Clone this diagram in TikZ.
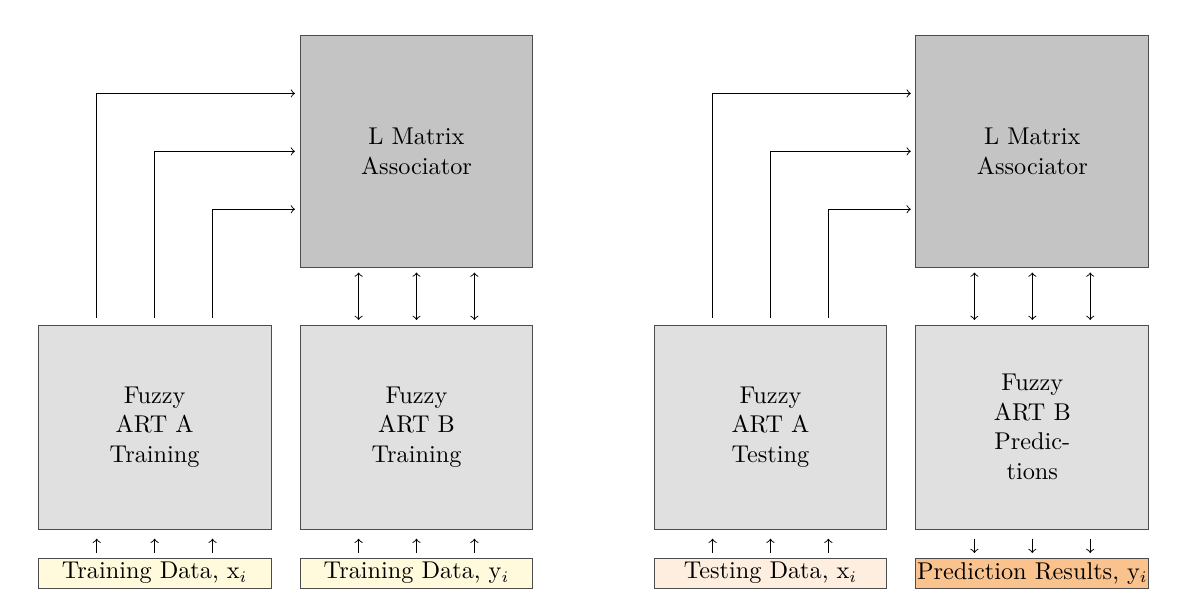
\documentclass[tikz,border=0pt]{standalone}
\usetikzlibrary{calc}
\definecolor{matgray}{RGB}{196,196,196}
\definecolor{artgray}{RGB}{224,224,224}
\definecolor{trainyellow}{RGB}{255,250,220}
\definecolor{testpeach}{RGB}{254,238,224}
\definecolor{predorange}{RGB}{250,194,140}
\tikzset{
	every node/.style={font=\fontsize{10.5pt}{12.8pt}\selectfont},
	matbox/.style={draw=black!70, fill=matgray, minimum width=3.54cm, minimum height=3.53cm, align=center},
	artbox/.style={draw=black!70, fill=artgray, minimum width=3.54cm, minimum height=3.10cm, align=center},
	databox/.style={draw=black!70, minimum width=3.54cm, minimum height=0.456cm, inner sep=0pt},
}
\begin{document}
\begin{tikzpicture}
	\useasboundingbox (0,0) rectangle (17.98,-9.26);

	% training
	\node[matbox] (lmat) at (6.33,-2.30) {L Matrix\\Associator};
	\node[artbox] (arta) at (2.35,-6.49) {Fuzzy\\ART A\\Training};
	\node[artbox] (artb) at (6.33,-6.49) {Fuzzy\\ART B\\Training};
	\node[databox, fill=trainyellow] (datax) at (2.35,-8.71) {Training Data, x$_i$};
	\node[databox, fill=trainyellow] (datay) at (6.33,-8.71) {Training Data, y$_i$};

	% testing
	\node[matbox] (lmattest) at (15.69,-2.30) {L Matrix\\Associator};
	\node[artbox] (artatest) at (11.71,-6.49) {Fuzzy\\ART A\\Testing};
	\node[artbox] (artbtest) at (15.69,-6.49) {Fuzzy\\ART B\\Predic-\\tions};
	\node[databox, fill=testpeach] (dataxtest) at (11.71,-8.71) {Testing Data, x$_i$};
	\node[databox, fill=predorange] (result) at (15.69,-8.71) {Prediction Results, y$_i$};

	\foreach \d in {-0.88,0,0.88} {
		\draw[->, shorten <=3pt, shorten >=2pt] ($(arta.north)+(\d,0)$) |- ($(lmat.west)+(0,-\d)$);
		\draw[<->, shorten <=2pt, shorten >=2pt] ($(lmat.south)+(\d,0)$) -- ($(artb.north)+(\d,0)$);
		\draw[->, shorten <=2pt, shorten >=4pt] ($(datax.north)+(\d,0)$) -- ($(arta.south)+(\d,0)$);
		\draw[->, shorten <=2pt, shorten >=4pt] ($(datay.north)+(\d,0)$) -- ($(artb.south)+(\d,0)$);

		\draw[->, shorten <=3pt, shorten >=2pt] ($(artatest.north)+(\d,0)$) |- ($(lmattest.west)+(0,-\d)$);
		\draw[<->, shorten <=2pt, shorten >=2pt] ($(lmattest.south)+(\d,0)$) -- ($(artbtest.north)+(\d,0)$);
		\draw[->, shorten <=2pt, shorten >=4pt] ($(dataxtest.north)+(\d,0)$) -- ($(artatest.south)+(\d,0)$);
		\draw[->, shorten <=4pt, shorten >=2pt] ($(artbtest.south)+(\d,0)$) -- ($(result.north)+(\d,0)$);
	}
\end{tikzpicture}
\end{document}
